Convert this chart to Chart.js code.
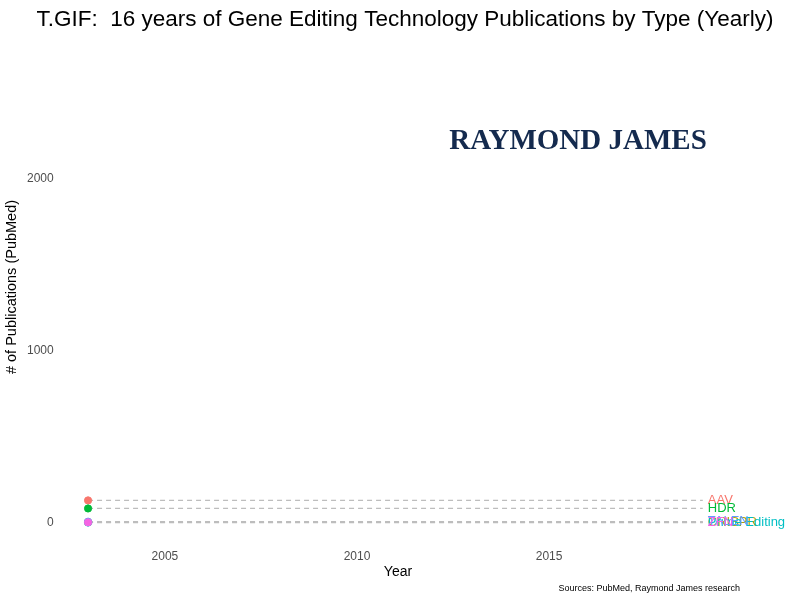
<!DOCTYPE html>
<html>
<head>
<meta charset="utf-8">
<script src="https://cdn.jsdelivr.net/npm/chart.js@4/dist/chart.umd.min.js"></script>
<style>
  html, body { margin: 0; padding: 0; background: #ffffff; }
  #wrap { width: 800px; height: 600px; }
</style>
</head>
<body>
<div id="wrap"><canvas id="grafico" width="800" height="600"></canvas></div>
<script>
/* =========================================================
   DADOS
========================================================= */

const technologies = ['AAV', 'CRISPR', 'HDR', 'Prime Editing', 'TALEN', 'ZFN'];
const pointYear = 2003;
const publications = [129, 3, 82, 0, 5, 1];
const seriesColors = ['#F8766D', '#B79F00', '#00BA38', '#00BFC4', '#619CFF', '#F564E3'];

const labelYear = 2019;
const xTicks = [2005, 2010, 2015];
const yTicks = [0, 1000, 2000];

const chartTitle = 'T.GIF:  16 years of Gene Editing Technology Publications by Type (Yearly)';
const xTitle = 'Year';
const yTitle = '# of Publications (PubMed)';

const fonte = '"Liberation Sans", Arial, sans-serif';

/* =========================================================
   DATASETS
========================================================= */

const datasets = [];

// linhas tracejadas do ponto até o rótulo (por baixo dos pontos)
technologies.forEach((nome, i) => {
  datasets.push({
    type: 'line',
    label: nome + ' guia',
    data: [{ x: pointYear, y: publications[i] }, { x: labelYear, y: publications[i] }],
    borderColor: '#bdbdbd',
    borderWidth: 1.3,
    borderDash: [5, 4],
    pointRadius: 0,
    fill: false,
    order: 20
  });
});

// pontos (o último da lista fica por cima)
technologies.forEach((nome, i) => {
  datasets.push({
    type: 'scatter',
    label: nome,
    data: [{ x: pointYear, y: publications[i] }],
    backgroundColor: seriesColors[i],
    borderColor: seriesColors[i],
    pointRadius: 3.6,
    pointHoverRadius: 3.6,
    order: technologies.length - 1 - i
  });
});

/* =========================================================
   PLUGIN: títulos, rótulos, logo e fonte
========================================================= */

const extras = {
  id: 'extras',
  afterDatasetsDraw(chart) {
    const ctx = chart.ctx;
    const x = chart.scales.x;
    const y = chart.scales.y;

    ctx.save();
    ctx.textBaseline = 'middle';

    // título
    ctx.fillStyle = '#000000';
    ctx.font = '22.5px ' + fonte;
    ctx.textAlign = 'center';
    ctx.fillText(chartTitle, 405, 20);

    // títulos dos eixos
    ctx.font = '14px ' + fonte;
    ctx.fillText(xTitle, 398, 572);
    ctx.save();
    ctx.translate(12, 287);
    ctx.rotate(-Math.PI / 2);
    ctx.font = '14.5px ' + fonte;
    ctx.fillText(yTitle, 0, 0);
    ctx.restore();

    // rótulos à direita
    ctx.font = '13px ' + fonte;
    ctx.textAlign = 'left';
    technologies.forEach((nome, i) => {
      ctx.fillStyle = seriesColors[i];
      ctx.fillText(nome, x.getPixelForValue(labelYear) + 5, y.getPixelForValue(publications[i]));
    });

    // logo
    ctx.fillStyle = '#142a4e';
    ctx.font = 'bold 29px "Liberation Serif", "Times New Roman", serif';
    ctx.textAlign = 'center';
    ctx.fillText('RAYMOND JAMES', 578, 142);

    // fonte dos dados
    ctx.fillStyle = '#000000';
    ctx.font = '9px ' + fonte;
    ctx.textAlign = 'right';
    ctx.fillText('Sources: PubMed, Raymond James research', 740, 589);
    ctx.restore();
  }
};

/* =========================================================
   GRÁFICO
========================================================= */

new Chart(document.getElementById('grafico'), {
  data: { datasets },
  plugins: [extras],
  options: {
    responsive: false,
    animation: false,
    layout: { padding: { left: 21, right: 5, bottom: 30, top: 63 } },
    plugins: {
      legend: { display: false },
      tooltip: { enabled: false },
      title: { display: false }
    },
    scales: {
      x: {
        type: 'linear',
        min: 2002.47,
        max: 2021.40,
        grid: { display: false },
        border: { display: false },
        afterBuildTicks: (scale) => { scale.ticks = xTicks.map(v => ({ value: v })); },
        ticks: {
          color: '#4d4d4d',
          padding: 6,
          font: { family: fonte, size: 12 },
          callback: (v) => String(v)
        }
      },
      y: {
        type: 'linear',
        min: -76,
        max: 2676,
        grid: { display: false },
        border: { display: false },
        afterBuildTicks: (scale) => { scale.ticks = yTicks.map(v => ({ value: v })); },
        ticks: {
          color: '#4d4d4d',
          padding: 6,
          font: { family: fonte, size: 12 },
          callback: (v) => String(v)
        }
      }
    }
  }
});
</script>
</body>
</html>
